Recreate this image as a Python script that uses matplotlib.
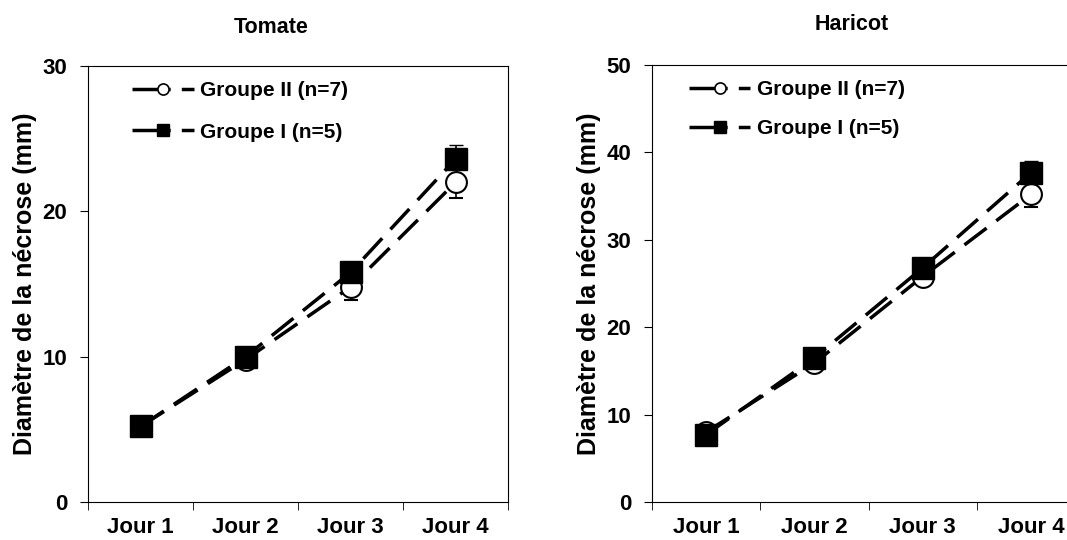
import matplotlib
matplotlib.use("Agg")
from matplotlib import pyplot as plt
from matplotlib.lines import Line2D

plt.rcParams['font.family'] = ['Liberation Sans', 'DejaVu Sans']
plt.rcParams['font.weight'] = 'bold'

jours = ["Jour 1", "Jour 2", "Jour 3", "Jour 4"]

# Tomate
tomate_g2 = [5.2, 9.8, 14.8, 22.0]
tomate_g2_err = [0.2, 0.4, 0.9, 1.1]
tomate_g1 = [5.2, 10.0, 15.8, 23.6]
tomate_g1_err = [0.2, 0.3, 0.5, 1.0]

# Haricot
haricot_g2 = [8.0, 15.9, 25.8, 35.2]
haricot_g2_err = [0.3, 0.5, 0.6, 1.4]
haricot_g1 = [7.7, 16.5, 26.8, 37.7]
haricot_g1_err = [0.3, 0.4, 0.5, 1.3]

fig = plt.figure(figsize=(10.67, 5.4), dpi=100)

panneaux = [
    ("Tomate", [0.0825, 0.0704, 0.3936, 0.807], 30, [0, 10, 20, 30],
     tomate_g2, tomate_g2_err, tomate_g1, tomate_g1_err, (0.435, 1.065), (0.086, 0.985), 1.08),
    ("Haricot", [0.611, 0.0704, 0.406, 0.809], 50, [0, 10, 20, 30, 40, 50],
     haricot_g2, haricot_g2_err, haricot_g1, haricot_g1_err, (0.46, 1.068), (0.066, 0.985), 0.98),
]

x = [1, 2, 3, 4]
for titre, pos, ymax, yt, g2, e2, g1, e1, tpos, lpos, lsp in panneaux:
    ax = fig.add_axes(pos)
    # groupe II : cercles blancs, barres d'erreur vers le bas
    ax.errorbar(x, g2, yerr=[e2, [0] * 4], color="black", lw=2.5, dashes=(8, 3.5),
                marker="o", ms=15, mfc="white", mec="black", mew=1.5,
                ecolor="black", elinewidth=1.2, capsize=5, zorder=3)
    # groupe I : carres noirs, barres d'erreur vers le haut
    ax.errorbar(x, g1, yerr=[[0] * 4, e1], color="black", lw=2.5, dashes=(8, 3.5),
                marker="s", ms=15.5, mfc="black", mec="black",
                ecolor="black", elinewidth=1.2, capsize=5, zorder=4)

    ax.set_xlim(0.5, 4.5)
    ax.set_ylim(0, ymax)
    ax.set_yticks(yt)
    ax.set_xticks(x)
    ax.set_xticklabels(jours, fontsize=16, fontweight="bold")
    ax.set_xticks([0.5, 1.5, 2.5, 3.5, 4.5], minor=True)
    ax.tick_params(axis="x", which="major", length=0, pad=11)
    ax.tick_params(axis="x", which="minor", length=6, direction="out")
    ax.tick_params(axis="y", length=6, direction="out", labelsize=16, pad=9)
    for lab in ax.get_yticklabels():
        lab.set_fontweight("bold")
    ax.set_ylabel("Diamètre de la nécrose (mm)", fontsize=18, fontweight="bold", labelpad=4)
    ax.text(tpos[0], tpos[1], titre, transform=ax.transAxes, ha="center", va="bottom",
            fontsize=15.5, fontweight="bold")

    h = [Line2D([], [], color="black", lw=2.5, dashes=(11, 3.2), marker="o", ms=8,
                mfc="white", mec="black", mew=1.2),
         Line2D([], [], color="black", lw=2.5, dashes=(11, 3.2), marker="s", ms=8,
                mfc="black", mec="black")]
    ax.legend(h, ["Groupe II (n=7)", "Groupe I (n=5)"], loc="upper left",
              bbox_to_anchor=lpos, frameon=False, handlelength=2.95,
              handletextpad=0.3, labelspacing=lsp, borderaxespad=0,
              prop={"size": 15, "weight": "bold"})

plt.savefig("out.png", dpi=100)
